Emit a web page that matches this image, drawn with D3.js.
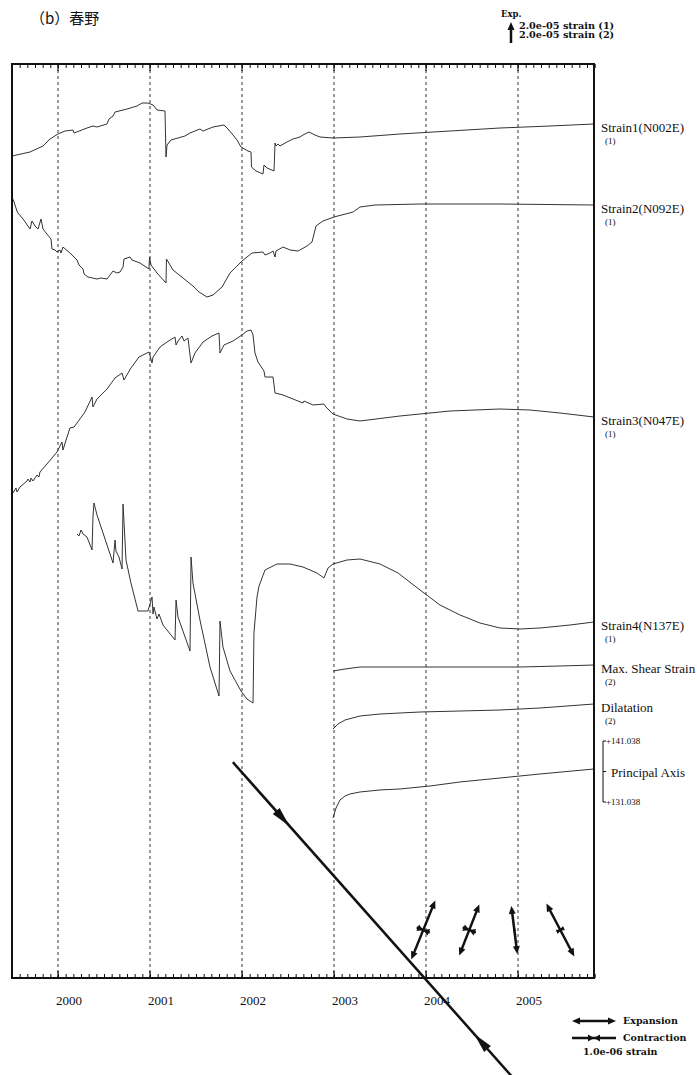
<!DOCTYPE html>
<html>
<head>
<meta charset="utf-8">
<script src="https://cdn.jsdelivr.net/npm/d3@7/dist/d3.min.js"></script>
<style>
  html, body { margin: 0; padding: 0; background: #fff; }
  svg { display: block; }
</style>
</head>
<body>
<svg id="chart" width="697" height="1075"></svg>
<script>
// ---- data -------------------------------------------------------------
// time axis (decimal years)
const timeDomain = [1999.5, 2005.826];
const yearTicks = [2000, 2001, 2002, 2003, 2004, 2005];
const yearLabels = ["2000", "2001", "2002", "2003", "2004", "2005"];

// strain components, units of 1.0e-06 strain: [decimal year, value]
const strain1 = [
  [1999.500,-32],[1999.696,-28],[1999.837,-22],[1999.913,-15],[2000.000,-10],[2000.076,-7],
  [2000.163,-6],[2000.174,-9],[2000.315,-4],[2000.380,-2],[2000.424,-3],[2000.533,0],
  [2000.554,5],[2000.598,8],[2000.620,12],[2000.750,15],[2000.859,18],[2000.913,21],
  [2000.978,21],[2001.033,19],[2001.076,14],[2001.163,13],[2001.174,-33],[2001.185,-21],
  [2001.228,-16],[2001.380,-12],[2001.435,-9],[2001.543,-5],[2001.576,-7],[2001.685,-3],
  [2001.804,-1],[2001.848,-5],[2001.902,-11],[2001.946,-16],[2001.989,-23],[2002.065,-27],
  [2002.098,-28],[2002.103,-43],[2002.152,-47],[2002.228,-50],[2002.239,-41],[2002.272,-44],
  [2002.348,-47],[2002.359,-19],[2002.370,-22],[2002.391,-20],[2002.413,-22],[2002.489,-18],
  [2002.554,-15],[2002.630,-13],[2002.663,-11],[2002.728,-8],[2002.793,-11],[2002.848,-13],
  [2002.989,-14],[2003.283,-13],[2003.717,-10],[2004.261,-7],[2004.804,-4],[2005.348,-2],
  [2005.826,0]
];
const strain2 = [
  [1999.500,8],[1999.522,3],[1999.554,-6],[1999.565,-8],[1999.620,-14],[1999.696,-24],
  [1999.717,-16],[1999.750,-21],[1999.783,-24],[1999.815,-14],[1999.837,-24],[1999.880,-29],
  [1999.924,-34],[1999.935,-44],[1999.967,-45],[1999.989,-47],[2000.022,-45],[2000.033,-48],
  [2000.054,-42],[2000.130,-48],[2000.207,-55],[2000.228,-60],[2000.272,-64],[2000.283,-69],
  [2000.326,-72],[2000.424,-74],[2000.467,-73],[2000.533,-74],[2000.598,-66],[2000.641,-68],
  [2000.674,-67],[2000.707,-62],[2000.717,-54],[2000.783,-52],[2000.804,-55],[2000.891,-58],
  [2000.989,-64],[2000.995,-52],[2001.011,-60],[2001.076,-68],[2001.174,-78],[2001.179,-54],
  [2001.250,-65],[2001.359,-73],[2001.467,-81],[2001.533,-87],[2001.620,-92],[2001.685,-90],
  [2001.783,-82],[2001.870,-68],[2002.000,-56],[2002.109,-48],[2002.228,-47],[2002.250,-50],
  [2002.304,-48],[2002.337,-46],[2002.359,-52],[2002.370,-46],[2002.446,-42],[2002.522,-45],
  [2002.609,-46],[2002.707,-41],[2002.761,-37],[2002.804,-21],[2002.880,-16],[2003.000,-12],
  [2003.207,-7],[2003.283,-2],[2003.446,0],[2003.935,1],[2004.804,1],[2005.826,0]
];
const strain3 = [
  [1999.511,-76],[1999.543,-71],[1999.554,-75],[1999.587,-70],[1999.663,-64],[1999.674,-62],
  [1999.696,-65],[1999.707,-61],[1999.728,-64],[1999.772,-58],[1999.793,-60],[1999.804,-55],
  [1999.880,-47],[1999.989,-35],[2000.043,-25],[2000.054,-33],[2000.098,-20],[2000.130,-11],
  [2000.174,-10],[2000.207,-6],[2000.293,5],[2000.370,20],[2000.380,10],[2000.424,18],
  [2000.533,28],[2000.620,39],[2000.696,44],[2000.717,37],[2000.793,49],[2000.880,60],
  [2000.967,64],[2000.989,65],[2001.022,54],[2001.033,60],[2001.109,70],[2001.185,75],
  [2001.272,80],[2001.283,72],[2001.304,76],[2001.348,81],[2001.370,76],[2001.413,79],
  [2001.446,54],[2001.489,64],[2001.576,75],[2001.674,81],[2001.750,84],[2001.761,64],
  [2001.804,72],[2001.902,76],[2002.000,82],[2002.054,86],[2002.098,87],[2002.120,82],
  [2002.141,64],[2002.174,55],[2002.239,46],[2002.250,40],[2002.337,40],[2002.359,24],
  [2002.446,22],[2002.554,18],[2002.663,14],[2002.674,16],[2002.772,12],[2002.891,13],
  [2002.913,10],[2002.989,3],[2003.141,-2],[2003.283,-4],[2003.717,1],[2004.261,6],
  [2004.804,8],[2005.130,7],[2005.457,4],[2005.826,0]
];
const strain4 = [
  [2000.207,88],[2000.228,86],[2000.250,92],[2000.272,88],[2000.315,85],[2000.370,72],
  [2000.380,105],[2000.391,119],[2000.424,107],[2000.533,77],[2000.598,59],[2000.620,82],
  [2000.630,71],[2000.663,65],[2000.696,53],[2000.707,118],[2000.739,62],[2000.793,39],
  [2000.870,11],[2000.978,11],[2001.022,25],[2001.033,8],[2001.043,15],[2001.076,3],
  [2001.098,8],[2001.141,-3],[2001.272,-18],[2001.283,22],[2001.304,5],[2001.435,-29],
  [2001.446,65],[2001.467,39],[2001.543,2],[2001.652,-45],[2001.750,-74],[2001.761,1],
  [2001.793,-25],[2001.870,-49],[2001.989,-69],[2002.054,-77],[2002.120,-81],[2002.130,-11],
  [2002.163,25],[2002.185,36],[2002.250,52],[2002.380,58],[2002.522,58],[2002.663,55],
  [2002.815,49],[2002.891,44],[2002.935,54],[2002.989,58],[2003.141,62],[2003.283,63],
  [2003.500,58],[2003.696,49],[2003.935,32],[2004.152,17],[2004.370,7],[2004.587,-1],
  [2004.804,-6],[2005.022,-7],[2005.239,-6],[2005.565,-3],[2005.826,0]
];
const maxShear = [
  [2002.989,-6],[2003.120,-4],[2003.283,-2],[2003.717,-2],[2004.370,-2],[2005.022,-2],
  [2005.457,-1],[2005.826,0]
];
const dilatation = [
  [2002.989,-25],[2003.043,-20],[2003.120,-16],[2003.283,-12],[2003.500,-10],[2003.935,-8],
  [2004.370,-7],[2004.804,-6],[2005.239,-4],[2005.826,0]
];
// principal axis azimuth, degrees
const principalAxis = [
  [2002.989,128.41],[2003.022,130.05],[2003.065,131.37],[2003.120,132.02],[2003.174,132.35],
  [2003.283,132.68],[2003.500,133.01],[2003.717,133.17],[2003.935,133.50],[2004.043,133.66],
  [2004.370,134.32],[2004.804,134.97],[2005.239,135.63],[2005.826,136.45]
];
const axisRange = [131.038, 141.038];

const seriesNames = ["Strain1(N002E)", "Strain2(N092E)", "Strain3(N047E)", "Strain4(N137E)",
                     "Max. Shear Strain", "Dilatation"];
const seriesScaleNotes = ["(1)", "(1)", "(1)", "(1)", "(2)", "(2)"];

// principal strains (1.0e-06 strain) at half-year epochs
const strainEpochs = [2003.52, 2003.97, 2004.47, 2004.96, 2005.46];
const expansionAzimuth = [48.4, 22.1, 21.4, -7.1, -27.8];   // degrees from north
const expansionValue = [0.0, 1.45, 1.25, 1.10, 1.36];
const contractionValue = [10.2, 0.32, 0.32, 0.05, 0.18];

// ---- layout -----------------------------------------------------------
const svg = d3.select("#chart");
const frame = {left: 12, right: 594, top: 64, bottom: 978};
const rowY = [124, 205, 417, 622, 665, 704];
const pxPerMicro = 1;        // 2.0e-05 strain = 20 px
const arrowPx = 44;          // 1.0e-06 strain principal-strain length
const arrowRowY = 930;
const serif = "'Liberation Serif', 'Times New Roman', serif";
const boldSerif = "'DejaVu Serif', serif";
const ink = "#111";

const x = d3.scaleLinear().domain(timeDomain).range([frame.left, frame.right]);

// monthly ticks along top and bottom edges
const monthTicks = d3.range(0, Math.round((timeDomain[1] - timeDomain[0]) * 12) + 1)
  .map(k => timeDomain[0] + k / 12);

const topAxis = d3.axisTop(x).tickValues(monthTicks).tickSize(-4).tickFormat("");
const botAxis = d3.axisBottom(x).tickValues(monthTicks).tickSize(-4).tickFormat("");
svg.append("g").attr("transform", `translate(0,${frame.top})`).call(topAxis)
  .call(g => g.select(".domain").remove())
  .selectAll("line").attr("stroke", ink).attr("stroke-width", 1);
svg.append("g").attr("transform", `translate(0,${frame.bottom})`).call(botAxis)
  .call(g => g.select(".domain").remove())
  .selectAll("line").attr("stroke", ink).attr("stroke-width", 1);

// dashed year lines
svg.append("g").selectAll("line").data(yearTicks).join("line")
  .attr("x1", d => x(d)).attr("x2", d => x(d))
  .attr("y1", frame.top).attr("y2", frame.bottom)
  .attr("stroke", "#333").attr("stroke-width", 1).attr("stroke-dasharray", "3,3");
// longer solid year ticks at the edges
svg.append("g").selectAll("line").data(yearTicks).join("line")
  .attr("x1", d => x(d)).attr("x2", d => x(d))
  .attr("y1", frame.bottom - 7).attr("y2", frame.bottom)
  .attr("stroke", ink).attr("stroke-width", 1.2);
svg.append("g").selectAll("line").data(yearTicks).join("line")
  .attr("x1", d => x(d)).attr("x2", d => x(d))
  .attr("y1", frame.top).attr("y2", frame.top + 7)
  .attr("stroke", ink).attr("stroke-width", 1.2);

// year labels
svg.append("g").selectAll("text").data(yearTicks).join("text")
  .attr("x", (d, i) => x(d) - 2).attr("y", 1005)
  .attr("font-family", serif).attr("font-size", 13).attr("fill", ink)
  .text((d, i) => yearLabels[i]);

// strain curves, each anchored so its last value sits on its label row
const allSeries = [strain1, strain2, strain3, strain4, maxShear, dilatation];
const curves = svg.append("g").attr("fill", "none").attr("stroke", "#333")
  .attr("stroke-width", 1).attr("stroke-linejoin", "round");
allSeries.forEach((s, i) => {
  const last = s[s.length - 1][1];
  const y = d3.scaleLinear().domain([last, last + 1]).range([rowY[i], rowY[i] - pxPerMicro]);
  const line = d3.line().x(d => x(d[0])).y(d => y(d[1]));
  curves.append("path").attr("d", line(s));
});
// principal axis curve
const yAxisDeg = d3.scaleLinear().domain(axisRange).range([802, 741]);
curves.append("path").attr("d", d3.line().x(d => x(d[0])).y(d => yAxisDeg(d[1]))(principalAxis));

// frame
svg.append("rect").attr("x", frame.left).attr("y", frame.top)
  .attr("width", frame.right - frame.left).attr("height", frame.bottom - frame.top)
  .attr("fill", "none").attr("stroke", ink).attr("stroke-width", 2);

// right-hand labels
const labels = svg.append("g").attr("font-family", serif).attr("fill", ink);
seriesNames.forEach((name, i) => {
  labels.append("text").attr("x", 601).attr("y", rowY[i] + 7.5).attr("font-size", 13).text(name);
  labels.append("text").attr("x", 605).attr("y", rowY[i] + 20).attr("font-size", 9).text(seriesScaleNotes[i]);
});
// principal axis bracket
const br = svg.append("g").attr("stroke", ink).attr("stroke-width", 1);
br.append("line").attr("x1", 603).attr("x2", 603).attr("y1", yAxisDeg(axisRange[1])).attr("y2", yAxisDeg(axisRange[0]));
[axisRange[1], (axisRange[0] + axisRange[1]) / 2, axisRange[0]].forEach(v => {
  br.append("line").attr("x1", 603).attr("x2", 606).attr("y1", yAxisDeg(v)).attr("y2", yAxisDeg(v));
});
labels.append("text").attr("x", 606).attr("y", yAxisDeg(axisRange[1]) + 3).attr("font-size", 9)
  .text("+" + axisRange[1].toFixed(3));
labels.append("text").attr("x", 606).attr("y", yAxisDeg(axisRange[0]) + 3).attr("font-size", 9)
  .text("+" + axisRange[0].toFixed(3));
labels.append("text").attr("x", 611).attr("y", yAxisDeg((axisRange[0] + axisRange[1]) / 2) + 5)
  .attr("font-size", 13).text("Principal Axis");

// ---- principal strain arrows ------------------------------------------
function head(g, tx, ty, ux, uy, len, hw) {
  // filled head with tip at (tx,ty) pointing along (ux,uy)
  const bx = tx - ux * len, by = ty - uy * len;
  const px = -uy, py = ux;
  g.append("path")
    .attr("d", `M${tx},${ty}L${bx + px * hw},${by + py * hw}L${bx - px * hw},${by - py * hw}Z`)
    .attr("fill", ink).attr("stroke", "none");
}
function expansion(g, cx, cy, azDeg, lenPx, hl = 8, hw = 3.5) {
  if (lenPx <= 0) return;
  const a = azDeg * Math.PI / 180, ux = Math.sin(a), uy = -Math.cos(a), h = lenPx / 2;
  g.append("line")
    .attr("x1", cx - ux * (h - hl * 0.6)).attr("y1", cy - uy * (h - hl * 0.6))
    .attr("x2", cx + ux * (h - hl * 0.6)).attr("y2", cy + uy * (h - hl * 0.6))
    .attr("stroke", ink).attr("stroke-width", 2.5);
  head(g, cx + ux * h, cy + uy * h, ux, uy, hl, hw);
  head(g, cx - ux * h, cy - uy * h, -ux, -uy, hl, hw);
}
function contraction(g, cx, cy, azDeg, lenPx, hl = 6, hw = 3.5) {
  if (lenPx <= 0) return;
  const a = azDeg * Math.PI / 180, ux = Math.sin(a), uy = -Math.cos(a), h = lenPx / 2;
  // small contractions get proportionally small heads
  const k = Math.min(1, h / hl);
  g.append("line")
    .attr("x1", cx - ux * h).attr("y1", cy - uy * h)
    .attr("x2", cx + ux * h).attr("y2", cy + uy * h)
    .attr("stroke", ink).attr("stroke-width", 2.5);
  const tip = h > 50 ? h * 0.62 : 0;
  head(g, cx + ux * tip, cy + uy * tip, -ux, -uy, hl * k, hw * k);
  head(g, cx - ux * tip, cy - uy * tip, ux, uy, hl * k, hw * k);
}

const arrows = svg.append("g");
strainEpochs.forEach((t, i) => {
  const cx = x(t), cy = arrowRowY;
  const cLen = contractionValue[i] * arrowPx;
  if (cLen > 50) contraction(arrows, cx, cy, expansionAzimuth[i] + 90, cLen, 20, 4.5);
  else contraction(arrows, cx, cy, expansionAzimuth[i] + 90, cLen);
  expansion(arrows, cx, cy, expansionAzimuth[i], expansionValue[i] * arrowPx);
});

// ---- legends ----------------------------------------------------------
svg.append("text").attr("x", 30).attr("y", 24)
  .attr("font-family", "'Noto Sans CJK JP', sans-serif").attr("font-size", 15).attr("fill", ink)
  .text("（b）春野");

const topLeg = svg.append("g").attr("font-family", boldSerif).attr("font-weight", "bold").attr("fill", ink);
topLeg.append("text").attr("x", 501).attr("y", 17).attr("font-size", 8.5).text("Exp.");
topLeg.append("line").attr("x1", 511).attr("x2", 511).attr("y1", 43).attr("y2", 28)
  .attr("stroke", ink).attr("stroke-width", 2.5);
head(topLeg, 511, 22, 0, -1, 8, 3.5);
topLeg.append("text").attr("x", 519).attr("y", 29).attr("font-size", 9.7).text("2.0e-05 strain (1)");
topLeg.append("text").attr("x", 519).attr("y", 38).attr("font-size", 9.7).text("2.0e-05 strain (2)");

const botLeg = svg.append("g");
expansion(botLeg, 594, 1021, 90, 1.0 * arrowPx);
contraction(botLeg, 594, 1038, 90, 1.0 * arrowPx);
const botText = svg.append("g").attr("font-family", boldSerif).attr("font-weight", "bold")
  .attr("font-size", 9.5).attr("fill", ink);
botText.append("text").attr("x", 623).attr("y", 1024).text("Expansion");
botText.append("text").attr("x", 623).attr("y", 1041).text("Contraction");
botText.append("text").attr("x", 583).attr("y", 1055).text("1.0e-06 strain");
</script>
</body>
</html>
